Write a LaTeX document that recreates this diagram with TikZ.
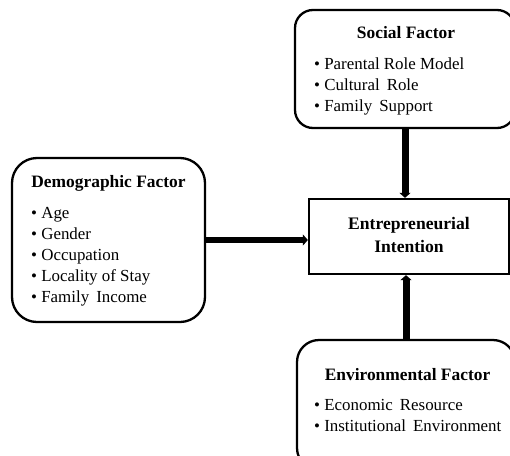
\documentclass[tikz,border=0pt]{standalone}
\usepackage{fontspec}
\setmainfont{Liberation Serif}
\usetikzlibrary{arrows.meta}
\tikzset{
  fbox/.style={draw=black, line width=2.3pt, fill=white, rounded corners=#1, inner sep=0pt},
  fbox/.default=20pt,
  ebox/.style={draw=black, line width=2.3pt, fill=white, inner sep=0pt, align=center,
    font=\fontsize{17.6}{23}\selectfont\bfseries},
  ttl/.style={anchor=base, inner sep=0pt, font=\fontsize{17.4}{20}\selectfont\bfseries},
  itm/.style={anchor=base west, inner sep=0pt, font=\fontsize{16.9}{20}\selectfont},
  bigarrow/.style={line width=#1, -{Triangle[length=5pt,width=11pt]}},
}
\begin{document}
\begin{tikzpicture}[x=1pt,y=-1pt]
\useasboundingbox (0,0) rectangle (510,455);
\clip (0,0) rectangle (510,455);
\fill[white] (0,0) rectangle (510,455);

% boxes
\node[fbox=18pt, minimum width=220pt, minimum height=118pt] (social) at (405,69) {};
\node[fbox=25pt, minimum width=193pt, minimum height=164pt] (demo) at (108.5,240) {};
\node[fbox=22pt, minimum width=218pt, minimum height=130pt] (env) at (406,405) {};
\node[ebox, minimum width=200pt, minimum height=75pt] (ent) at (409,236.5) {\raisebox{3pt}{Entrepreneurial}\\\raisebox{3pt}{Intention}};

% social text
\node[ttl] (st) at (406,38) {Social Factor};
\node[itm] (s1) at (314,69) {• Parental Role Model};
\node[itm] (s2) at (314,90) {• Cultural\, Role};
\node[itm] (s3) at (314,111) {• Family\, Support};

% demographic text
\node[ttl] (dt) at (108.5,187) {Demographic Factor};
\node[itm] (d1) at (31,218) {• Age};
\node[itm] (d2) at (31,239) {• Gender};
\node[itm] (d3) at (31,260) {• Occupation};
\node[itm] (d4) at (31,281) {• Locality of Stay};
\node[itm] (d5) at (31,302) {• Family\, Income};

% environmental text
\node[ttl] (et) at (407.5,380) {Environmental Factor};
\node[itm] (e1) at (314,410) {• Economic\, Resource};
\node[itm] (e2) at (314,431) {• Institutional\, Environment};

% arrows
\draw[bigarrow=6pt] (demo.east) -- (demo.east -| ent.west);
\draw[bigarrow=7pt] (social.south) -- (social.south |- ent.north);
\draw[bigarrow=7pt] (env.north) -- (env.north |- ent.south);
\end{tikzpicture}
\end{document}
